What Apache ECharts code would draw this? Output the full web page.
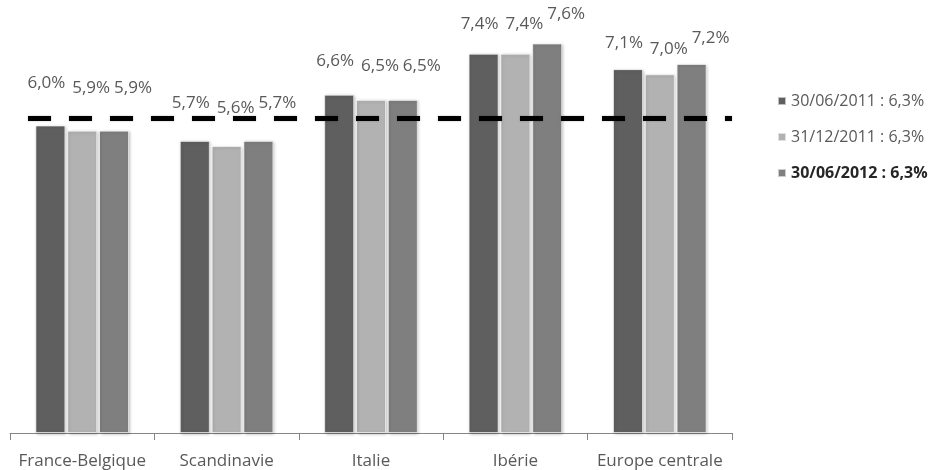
<!DOCTYPE html>
<html>
<head>
<meta charset="utf-8">
<script src="https://cdn.jsdelivr.net/npm/echarts@6/dist/echarts.min.js"></script>
<style>html,body{margin:0;padding:0;background:#fff;}#c{width:934px;height:470px;}</style>
</head>
<body>
<div id="c"></div>
<script>
var categories = ['France-Belgique', 'Scandinavie', 'Italie', 'Ibérie', 'Europe centrale'];
var seriesNames = ['30/06/2011 : 6,3%', '31/12/2011 : 6,3%', '30/06/2012 : 6,3%'];
var values2011a = [6.0, 5.7, 6.6, 7.4, 7.1];
var values2011b = [5.9, 5.6, 6.5, 7.4, 7.0];
var values2012a = [5.9, 5.7, 6.5, 7.6, 7.2];
var referenceLine = 6.15;

var colors = ['#5f5f5f', '#b2b2b2', '#7f7f7f'];
var allValues = [values2011a, values2011b, values2012a];
var font = '"Open Sans", sans-serif';

// label placement (style only): raise per category, horizontal shift per series
var labelStyle = {
  raise: [34, 29, 25, 21, 17],
  shift: [-4, 9, 19]
};

var chart = echarts.init(document.getElementById('c'), null, {renderer: 'canvas'});

var series = allValues.map(function (vals, i) {
  var s = {
    name: seriesNames[i],
    type: 'bar',
    data: vals.map(function (v, j) {
      return {value: v, label: {offset: [labelStyle.shift[i], -labelStyle.raise[j]]}};
    }),
    barWidth: 30,
    barGap: '6%',
    itemStyle: {
      color: colors[i],
      borderColor: 'rgba(255,255,255,0.6)',
      borderWidth: 1,
      shadowColor: 'rgba(0,0,0,0.25)',
      shadowBlur: 3,
      shadowOffsetX: 1,
      shadowOffsetY: 1
    },
    label: {
      show: true,
      position: 'top',
      distance: 0,
      color: '#595959',
      fontFamily: font,
      fontSize: 17,
      formatter: function (p) { return p.value.toFixed(1).replace('.', ',') + '%'; }
    }
  };
  if (i === 0) {
    s.markLine = {
      silent: true,
      symbol: 'none',
      label: {show: false},
      lineStyle: {color: '#000', width: 5, type: [23, 18], dashOffset: 23, shadowColor: 'rgba(0,0,0,0.3)', shadowBlur: 2},
      data: [{yAxis: referenceLine}]
    };
  }
  return s;
});

chart.setOption({
  animation: false,
  backgroundColor: '#ffffff',
  grid: {left: 10, right: 202, top: 23, bottom: 37, containLabel: false},
  legend: {
    orient: 'vertical',
    left: 772,
    top: 88,
    itemWidth: 8,
    itemHeight: 8,
    itemGap: 20,
    icon: 'rect',
    textStyle: {
      color: '#595959',
      fontFamily: font,
      fontSize: 16,
      rich: {
        b: {fontWeight: 'bold', color: '#262626', fontFamily: font, fontSize: 16}
      }
    },
    formatter: function (name) {
      return name === seriesNames[2] ? '{b|' + name + '}' : name;
    },
    data: seriesNames
  },
  xAxis: {
    type: 'category',
    data: categories,
    axisLine: {lineStyle: {color: '#868686', width: 1}},
    axisTick: {show: true, length: 7, lineStyle: {color: '#868686'}},
    axisLabel: {color: '#595959', fontFamily: font, fontSize: 17, margin: 20, interval: 0, hideOverlap: false}
  },
  yAxis: {
    type: 'value',
    min: 0,
    max: 8,
    show: false,
    splitLine: {show: false}
  },
  series: series
});
</script>
</body>
</html>
